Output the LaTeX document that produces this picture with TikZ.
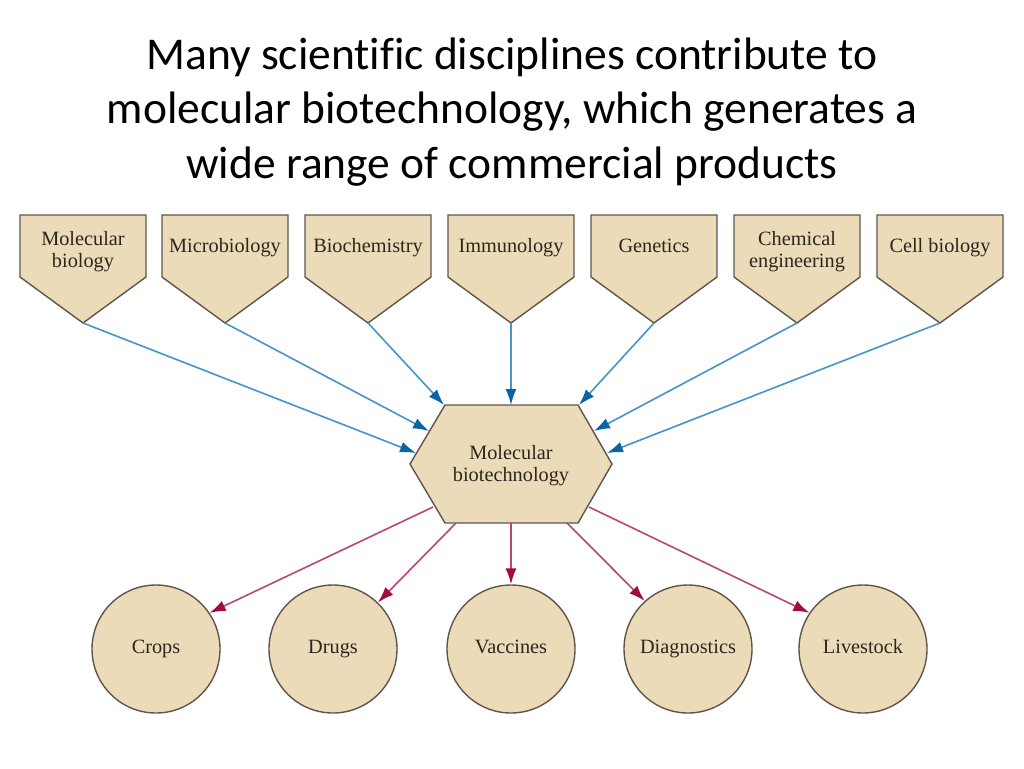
\documentclass[tikz,border=0pt]{standalone}
\usepackage{fontspec}
\setmainfont{Liberation Serif}
\newfontfamily\titlefont[Ligatures=NoCommon]{Carlito}
\usetikzlibrary{arrows.meta}

\definecolor{beige}{RGB}{236,219,184}
\definecolor{edgegray}{RGB}{95,85,75}
\definecolor{inkbrown}{RGB}{45,38,30}
\definecolor{blueline}{RGB}{70,148,200}
\definecolor{bluehead}{RGB}{10,100,165}
\definecolor{redline}{RGB}{185,70,115}
\definecolor{redhead}{RGB}{165,10,65}

\begin{document}
\begin{tikzpicture}[
  x=1pt, y=-1pt,
  shapebox/.style={draw=edgegray, line width=1.4pt, fill=beige, line join=miter},
  boxtxt/.style={font=\fontsize{20.3}{22}\selectfont, text=inkbrown, align=center,
                 inner sep=0pt, execute at begin node=\strut, execute at end node=\strut},
  prod/.style={circle, draw=edgegray, line width=1.4pt, fill=beige, minimum size=128pt,
               inner sep=0pt, font=\fontsize{20.3}{22}\selectfont, text=inkbrown,
               execute at begin node=\strut},
  inflow/.style={draw=blueline, line width=1.6pt,
                 -{Latex[length=16pt,width=11pt,color=bluehead]}},
  outflow/.style={draw=redline, line width=1.6pt,
                  -{Latex[length=16pt,width=11pt,color=redhead]}},
]
\useasboundingbox (0,0) rectangle (1024,768);

% ---------- title ----------
\node[font=\titlefont\fontsize{45.5}{54.5}\selectfont, align=center] (title) at (512,112)
  {Many scientific disciplines contribute to\\
   molecular biotechnology, which generates a\\
   wide range of commercial products};

% ---------- disciplines ----------
\foreach \x/\ty/\name/\txt in {83/253/molbio/{Molecular\\biology},
                               225/248/microbio/{Microbiology},
                               368/248/biochem/{Biochemistry},
                               511/248/immuno/{Immunology},
                               654/248/genetics/{Genetics},
                               797/253/chemeng/{Chemical\\engineering},
                               940/248/cellbio/{Cell biology}}{
  \draw[shapebox] (\x-63,215) -- (\x+63,215) -- (\x+63,277) -- (\x,323)
                  -- (\x-63,277) -- cycle;
  \node[boxtxt] (\name) at (\x,\ty) {\txt};
  \coordinate (\name-tip) at (\x,323);
}

% ---------- molecular biotechnology ----------
\draw[shapebox] (410,464) -- (445,405) -- (578,405) -- (612,464)
                -- (578,523) -- (445,523) -- cycle;
\node[boxtxt] (mbt) at (511,467) {Molecular\\biotechnology};

\coordinate (in1) at (416,453);
\coordinate (in2) at (429,431);
\coordinate (in3) at (444,405);
\coordinate (in4) at (511,405);
\coordinate (in5) at (579,405);
\coordinate (in6) at (594,431);
\coordinate (in7) at (607,453);

\coordinate (out1) at (433,507);
\coordinate (out2) at (456,523);
\coordinate (out3) at (511,523);
\coordinate (out4) at (567,523);
\coordinate (out5) at (589,507);

% ---------- products ----------
\node[prod] (crops) at (156,649) {Crops};
\node[prod] (drugs) at (333,649) {Drugs};
\node[prod] (vacc)  at (511,649) {Vaccines};
\node[prod] (diag)  at (688,649) {Diagnostics};
\node[prod] (live)  at (863,649) {Livestock};

% ---------- inflow ----------
\draw[inflow] (molbio-tip)   -- (in1);
\draw[inflow] (microbio-tip) -- (in2);
\draw[inflow] (biochem-tip)  -- (in3);
\draw[inflow] (immuno-tip)   -- (in4);
\draw[inflow] (genetics-tip) -- (in5);
\draw[inflow] (chemeng-tip)  -- (in6);
\draw[inflow] (cellbio-tip)  -- (in7);

% ---------- outflow ----------
\draw[outflow] (out1) -- (crops.34);
\draw[outflow] (out2) -- (drugs.46);
\draw[outflow] (out3) -- (vacc.90);
\draw[outflow] (out4) -- (diag.132);
\draw[outflow] (out5) -- (live.146);

\end{tikzpicture}
\end{document}
